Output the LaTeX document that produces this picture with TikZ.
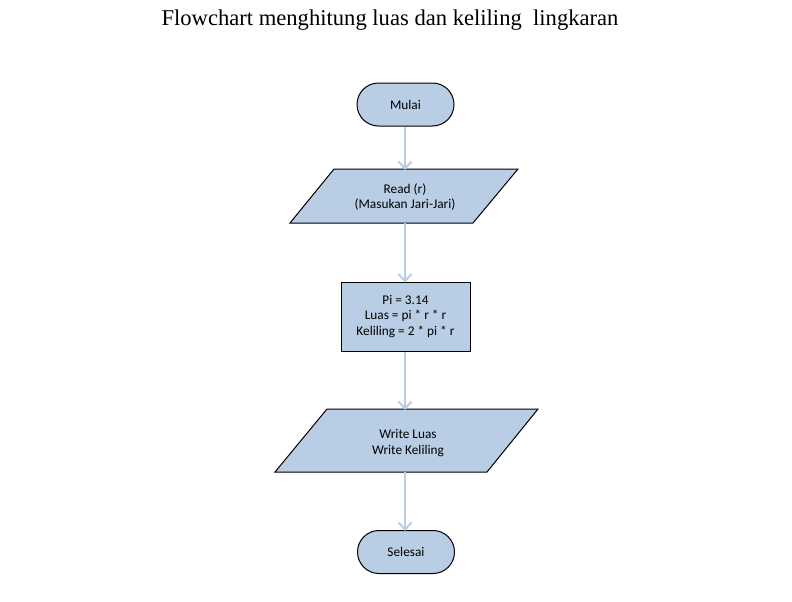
\documentclass[tikz,border=0pt]{standalone}
\usepackage{fontspec}
\setmainfont{Carlito}
\newfontfamily\titlefont{Liberation Serif}
\usetikzlibrary{arrows.meta,shapes.misc}
\definecolor{boxfill}{HTML}{B9CDE5}
\definecolor{arrowcol}{HTML}{B9CDE5}
\tikzset{
  term/.style={rounded rectangle, draw=black, line width=1pt, fill=boxfill, minimum width=97pt, minimum height=43pt, inner sep=0pt, font=\fontsize{13.3}{15.5}\selectfont},
  proc/.style={rectangle, draw=black, line width=1pt, fill=boxfill, minimum width=129pt, minimum height=69pt, inner sep=0pt, align=center, font=\fontsize{13.3}{15.5}\selectfont},
  para/.style={draw=black, line width=1pt, fill=boxfill},
  txt/.style={align=center, inner sep=0pt, font=\fontsize{13.3}{15.5}\selectfont},
  flow/.style={draw=arrowcol, line width=2pt, -{Straight Barb[length=7pt,width=13pt,line width=2pt]}}
}
\begin{document}
\begin{tikzpicture}[x=1pt,y=-1pt]
\useasboundingbox (0,0) rectangle (792,602);
\node[font=\titlefont\fontsize{22.6}{26}\selectfont, anchor=center] (title) at (390,20) {Flowchart menghitung luas dan keliling\ \ lingkaran};
% start
\node[term] (mulai) at (405.5,104.5) {Mulai};
% read parallelogram
\draw[para] (334,169) -- (518,169) -- (473,223) -- (290,223) -- cycle;
\coordinate (readtop) at (405,169);
\coordinate (readbot) at (405,223);
\node[txt] (read) at (405,197) {Read (r)\\(Masukan Jari-Jari)};
% process
\node[proc] (proc) at (405.5,316.5) {Pi = 3.14\\Luas = pi * r * r\\Keliling = 2 * pi * r};
% write parallelogram
\draw[para] (327,409) -- (538,409) -- (487,472) -- (275,472) -- cycle;
\coordinate (writetop) at (405,409);
\coordinate (writebot) at (405,472);
\node[txt] (write) at (408,443) {Write Luas\\Write Keliling};
% end
\node[term] (selesai) at (406,552) {Selesai};
% arrows
\draw[flow] (mulai.south -| readtop) -- ([yshift=-1pt]readtop);
\draw[flow] (readbot) -- ([yshift=-1pt]proc.north -| readbot);
\draw[flow] (proc.south -| writetop) -- ([yshift=-1pt]writetop);
\draw[flow] (writebot) -- ([yshift=-1pt]selesai.north -| writebot);
\end{tikzpicture}
\end{document}
